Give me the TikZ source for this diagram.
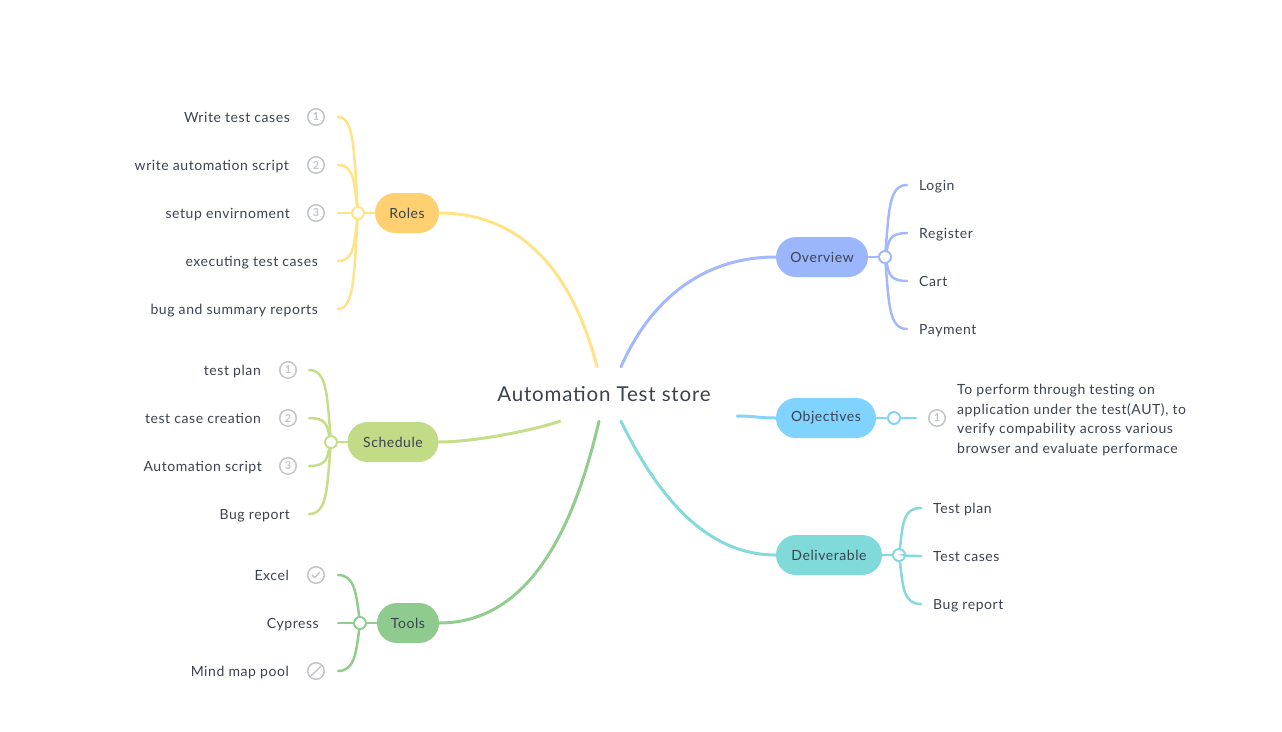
\documentclass[tikz,border=0pt]{standalone}
\usepackage{fontspec}
\setmainfont{Lato}[LetterSpace=4.0]
\usetikzlibrary{positioning}
\definecolor{ink}{HTML}{3B4350}
\definecolor{mute}{HTML}{C2C5C9}
\definecolor{rolesFill}{HTML}{FFD072}
\definecolor{rolesLine}{HTML}{FFE387}
\definecolor{schedFill}{HTML}{C2DB86}
\definecolor{schedLine}{HTML}{C6DD8A}
\definecolor{toolsFill}{HTML}{8FCB8E}
\definecolor{toolsLine}{HTML}{92CD90}
\definecolor{overFill}{HTML}{9CB6FC}
\definecolor{overLine}{HTML}{A3B9FC}
\definecolor{objFill}{HTML}{80D3FF}
\definecolor{objLine}{HTML}{84D4FA}
\definecolor{delivFill}{HTML}{80DADA}
\definecolor{delivLine}{HTML}{85DADA}

\begin{document}
\begin{tikzpicture}[
  x=1pt, y=-1pt,
  topic/.style={rounded corners=20pt, minimum height=40pt, inner xsep=12pt,
                font=\fontsize{14}{16}\selectfont, text=ink},
  leaf/.style={font=\fontsize{14}{16}\selectfont, text=ink, inner sep=0pt,
               text height=13pt, text depth=2pt},
  note/.style={font=\fontsize{14}{19.5}\selectfont, text=ink, align=left, inner sep=0pt},
  hub/.style={circle, draw, fill=white, line width=2pt, minimum size=12pt, inner sep=0pt},
  badge/.style={circle, draw=mute, line width=1.5pt, minimum size=16.5pt, inner sep=0pt,
                text=mute, font=\fontsize{11}{11}\selectfont\bfseries},
  branch/.style={line width=3pt, line cap=round},
  twig/.style={line width=2.5pt, line cap=round}
]
\useasboundingbox (0,0) rectangle (1282,731);

\node[font=\fontsize{20.5}{24}\selectfont, text=ink, minimum width=266pt,
      minimum height=54pt] (root) at (604,394) {Automation Test store};

% main topics
\node[topic, fill=rolesFill, minimum width=64pt] (roles) at (407,213) {Roles};
\node[topic, fill=schedFill, minimum width=91pt] (schedule) at (393,442) {Schedule};
\node[topic, fill=toolsFill, minimum width=62pt] (tools) at (408,623) {Tools};
\node[topic, fill=overFill, minimum width=92pt] (overview) at (822,257) {Overview};
\node[topic, fill=objFill, minimum width=100pt] (objectives) at (826,418) {Objectives};
\node[topic, fill=delivFill, minimum width=106pt] (deliverable) at (829,555) {Deliverable};

\draw[branch, rolesLine] ([xshift=-7pt]root.north)
  .. controls +(-17,-66) and +(133,0) .. (roles);
\draw[branch, schedLine] ([xshift=-44pt]root.south)
  .. controls +(-30,10) and +(80,0) .. (schedule);
\draw[branch, toolsLine] ([xshift=-5pt]root.south)
  .. controls +(-19,80) and +(133,0) .. (tools);
\draw[branch, overLine] ([xshift=17pt]root.north)
  .. controls +(29,-66) and +(-120,0) .. (overview);
\draw[branch, objLine] ([yshift=-22pt]root.east)
  .. controls +(20,0) and +(-70,0) .. (objectives);
\draw[branch, delivLine] ([xshift=17pt]root.south)
  .. controls +(39,80) and +(-120,0) .. (deliverable);

% roles
\node[hub, draw=rolesLine] (rhub) at (358,213) {};
\draw[twig, rolesLine] (roles) -- (rhub);
\node[leaf, anchor=east] (r1) at (290,117) {Write test cases};
\node[leaf, anchor=east] (r2) at (289,165) {write automation script};
\node[leaf, anchor=east] (r3) at (290,213) {setup envirnoment};
\node[leaf, anchor=east] (r4) at (318,261) {executing test cases};
\node[leaf, anchor=east] (r5) at (318,309) {bug and summary reports};
\node[badge] (r1b) at (316,117) {1};
\node[badge] (r2b) at (316,165) {2};
\node[badge] (r3b) at (316,213) {3};
\coordinate (r1e) at (338,117);
\coordinate (r2e) at (338,165);
\coordinate (r3e) at (338,213);
\coordinate (r4e) at (338,261);
\coordinate (r5e) at (338,309);
\foreach \c/\d in {r1e/-96, r2e/-48, r3e/0, r4e/48, r5e/96}
  \draw[twig, rolesLine] (rhub) .. controls +(-4,{0.65*\d}) and +(16,0) .. (\c);

% schedule
\node[hub, draw=schedLine] (shub) at (331,442) {};
\draw[twig, schedLine] (schedule) -- (shub);
\node[leaf, anchor=east] (s1) at (261,370) {test plan};
\node[leaf, anchor=east] (s2) at (261,418) {test case creation};
\node[leaf, anchor=east] (s3) at (262,466) {Automation script};
\node[leaf, anchor=east] (s4) at (290,514) {Bug report};
\node[badge] (s1b) at (288,370) {1};
\node[badge] (s2b) at (288,418) {2};
\node[badge] (s3b) at (288,466) {3};
\coordinate (s1e) at (309,370);
\coordinate (s2e) at (309,418);
\coordinate (s3e) at (309,466);
\coordinate (s4e) at (309,514);
\foreach \c/\d in {s1e/-72, s2e/-24, s3e/24, s4e/72}
  \draw[twig, schedLine] (shub) .. controls +(-4,{0.65*\d}) and +(18,0) .. (\c);

% tools
\node[hub, draw=toolsLine] (thub) at (360,623) {};
\draw[twig, toolsLine] (tools) -- (thub);
\node[leaf, anchor=east] (t1) at (289,575) {Excel};
\node[leaf, anchor=east] (t2) at (319,623) {Cypress};
\node[leaf, anchor=east] (t3) at (289,671) {Mind map pool};
\node[badge] (t1b) at (316,575) {};
\node[badge] (t3b) at (316,671) {};
\draw[mute, line width=1.4pt, line cap=round, line join=round]
  ([shift={(-3.8,0)}]t1b.center) -- ++(2.6,2.6) -- ++(4.8,-5.2);
\draw[mute, line width=1.4pt, line cap=round]
  ([shift={(-4.9,4.9)}]t3b.center) -- ([shift={(4.9,-4.9)}]t3b.center);
\coordinate (t1e) at (338,575);
\coordinate (t2e) at (338,623);
\coordinate (t3e) at (338,671);
\foreach \c/\d in {t1e/-48, t2e/0, t3e/48}
  \draw[twig, toolsLine] (thub) .. controls +(-4,{0.65*\d}) and +(16,0) .. (\c);

% overview
\node[hub, draw=overLine] (ohub) at (885,257) {};
\draw[twig, overLine] (overview) -- (ohub);
\node[leaf, anchor=west] (o1) at (919,185) {Login};
\node[leaf, anchor=west] (o2) at (919,233) {Register};
\node[leaf, anchor=west] (o3) at (919,281) {Cart};
\node[leaf, anchor=west] (o4) at (919,329) {Payment};
\coordinate (o1e) at (907,185);
\coordinate (o2e) at (907,233);
\coordinate (o3e) at (907,281);
\coordinate (o4e) at (907,329);
\foreach \c/\d in {o1e/-72, o2e/-24, o3e/24, o4e/72}
  \draw[twig, overLine] (ohub) .. controls +(4,{0.65*\d}) and +(-18,0) .. (\c);

% objectives
\node[hub, draw=objLine] (bhub) at (894,418) {};
\draw[twig, objLine] (objectives) -- (bhub);
\coordinate (b1e) at (916,418);
\draw[twig, objLine] (bhub) -- (b1e);
\node[badge] (b1b) at (937,418) {1};
\node[note, anchor=west] (b1) at (957,420)
  {To perform through testing on\\application under the test(AUT), to\\
   verify compability across various\\browser and evaluate performace};

% deliverable
\node[hub, draw=delivLine] (dhub) at (899,555) {};
\draw[twig, delivLine] (deliverable) -- (dhub);
\node[leaf, anchor=west] (d1) at (933,508) {Test plan};
\node[leaf, anchor=west] (d2) at (933,556) {Test cases};
\node[leaf, anchor=west] (d3) at (933,604) {Bug report};
\coordinate (d1e) at (921,508);
\coordinate (d2e) at (921,556);
\coordinate (d3e) at (921,604);
\foreach \c/\d in {d1e/-48, d2e/0, d3e/48}
  \draw[twig, delivLine] (dhub) .. controls +(4,{0.65*\d}) and +(-18,0) .. (\c);
\end{tikzpicture}
\end{document}
